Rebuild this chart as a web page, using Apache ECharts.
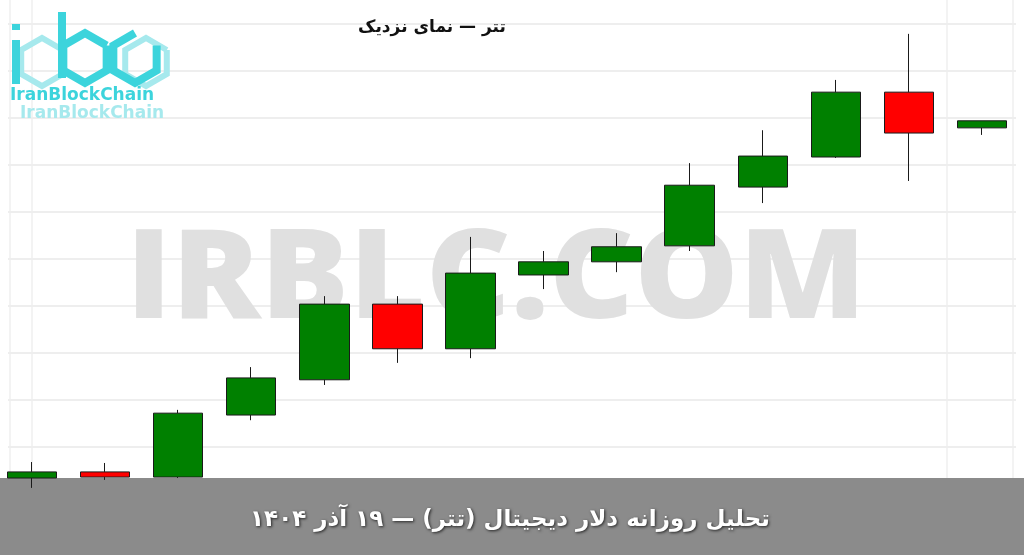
<!DOCTYPE html>
<html>
<head>
<meta charset="utf-8">
<script src="https://cdn.jsdelivr.net/npm/echarts@6/dist/echarts.min.js"></script>
<style>
html,body{margin:0;padding:0;background:#fff;}
#c{width:1024px;height:555px;}
</style>
</head>
<body>
<div id="c"></div>
<script>
// Data (chart units)
const days = ['1','2','3','4','5','6','7','8','9','10','11','12','13','14'];
const openV  = [34, 47, 36, 168, 243, 404, 309, 466, 494, 528, 653, 717, 855, 779];
const closeV = [47, 36, 172, 247, 404, 309, 470, 494, 526, 657, 719, 855, 768, 794];
const lowV   = [13, 30, 34, 157, 232, 279, 289, 436, 472, 517, 619, 715, 666, 764];
const highV  = [68, 66, 179, 270, 421, 421, 547, 517, 555, 704, 774, 881, 979, 794];
const titleText = 'تتر — نمای نزدیک';
const bannerText = 'تحلیل روزانه دلار دیجیتال (تتر) — ۱۹ آذر ۱۴۰۴';
const watermark = 'IRBLC.COM';
const brand = 'IranBlockChain';

const ohlc = days.map((d, i) => [openV[i], closeV[i], lowV[i], highV[i]]);

const chart = echarts.init(document.getElementById('c'), null, {renderer: 'canvas'});
const cyan = '#3cd4dc';
const cyanL = '#a6e9ed';

function hexPts(cx, cy, r) {
  const p = [];
  for (let k = 0; k < 7; k++) {
    const a = Math.PI / 180 * (60 * k - 30);
    p.push([cx + r * Math.cos(a), cy + r * Math.sin(a)]);
  }
  return p;
}

const logo = [];
logo.push({type:'polyline', shape:{points:hexPts(42,62,24)}, style:{stroke:cyanL, lineWidth:6, fill:null}, z:3});
logo.push({type:'polyline', shape:{points:hexPts(146,62,24)}, style:{stroke:cyanL, lineWidth:6, fill:null}, z:3});
logo.push({type:'line', shape:{x1:16,y1:40,x2:16,y2:84}, style:{stroke:cyan, lineWidth:8}, z:4});
logo.push({type:'line', shape:{x1:16,y1:24,x2:16,y2:30}, style:{stroke:cyan, lineWidth:8}, z:4});
logo.push({type:'line', shape:{x1:62,y1:12,x2:62,y2:78}, style:{stroke:cyan, lineWidth:8}, z:4});
logo.push({type:'polyline', shape:{points:hexPts(85,58,25)}, style:{stroke:cyan, lineWidth:8, fill:null}, z:4});
(function(){
  const p = hexPts(135,58,25);
  logo.push({type:'polyline', shape:{points:[p[0],p[1],p[2],p[3],p[4],p[5]]}, style:{stroke:cyan, lineWidth:8, fill:null}, z:4});
})();
logo.push({type:'text', left:10, top:87, style:{text:brand, font:'bold 17px "DejaVu Sans"', fill:cyan}, z:4});
logo.push({type:'text', left:20, top:105, style:{text:brand, font:'bold 17px "DejaVu Sans"', fill:cyanL}, z:3});

const vlines = [10, 32, 947, 1013].map(x => ({
  type:'line', shape:{x1:x, y1:0, x2:x, y2:478}, style:{stroke:'#f3f3f3', lineWidth:2}, z:0
}));

chart.setOption({
  animation: false,
  backgroundColor: '#ffffff',
  grid: [
    {left: 32, right: 42, top: 24, bottom: 61, containLabel: false},
    {left: 8, right: 8, top: 24, bottom: 61, containLabel: false}
  ],
  xAxis: [
    {type: 'category', data: days, boundaryGap: false, gridIndex: 0,
     axisLine: {show: false}, axisTick: {show: false}, axisLabel: {show: false}, splitLine: {show: false}},
    {type: 'value', gridIndex: 1, show: false, min: 0, max: 1}
  ],
  yAxis: [
    {type: 'value', min: 0, max: 1000, interval: 100, gridIndex: 0,
     axisLine: {show: false}, axisTick: {show: false}, axisLabel: {show: false}, splitLine: {show: false}},
    {type: 'value', min: 0, max: 1000, interval: 100, gridIndex: 1,
     axisLine: {show: false}, axisTick: {show: false}, axisLabel: {show: false},
     splitLine: {show: true, lineStyle: {color: '#eeeeee', width: 2}}}
  ],
  graphic: [
    ...vlines,
    {type:'text', x:496, y:283, z:1,
     style:{text:watermark, font:'800 124px "Open Sans"', fill:'#e0e0e0', align:'center', verticalAlign:'middle'},
     scaleX:1.06},
    {type:'rect', shape:{x:0, y:478, width:1024, height:77}, style:{fill:'#8b8b8b'}, z:1},
    {type:'text', x:510, y:520, z:5,
     style:{text:bannerText, font:'bold 23px "DejaVu Sans"', fill:'#ffffff', align:'center', verticalAlign:'middle',
            textShadowColor:'rgba(0,0,0,0.75)', textShadowBlur:3, textShadowOffsetX:1, textShadowOffsetY:1}},
    {type:'text', x:432, y:28, z:5,
     style:{text:titleText, font:'bold 17px "DejaVu Sans"', fill:'#111', align:'center', verticalAlign:'middle'}},
    ...logo
  ],
  series: [{
    type: 'candlestick',
    data: ohlc,
    xAxisIndex: 0, yAxisIndex: 0,
    barWidth: 50,
    clip: false,
    z: 3,
    itemStyle: {
      color: '#008000', color0: '#ff0000',
      borderColor: '#1a1a1a', borderColor0: '#1a1a1a', borderWidth: 1
    }
  }]
});
</script>
</body>
</html>
